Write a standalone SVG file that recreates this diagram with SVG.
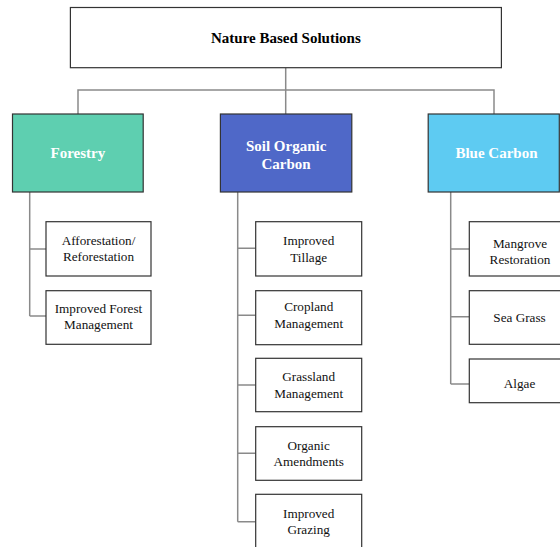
<svg xmlns="http://www.w3.org/2000/svg" width="560" height="547" viewBox="0 0 560 547">
  <style>
    .box { fill: #ffffff; stroke: #333333; stroke-width: 1.2; }
    .cat { stroke: #333333; stroke-width: 1.2; }
    .title { font-family: "Liberation Serif", "Times New Roman", serif; font-weight: bold; font-size: 15px; text-anchor: middle; fill: #000000; }
    .catlabel { font-family: "Liberation Serif", "Times New Roman", serif; font-weight: bold; font-size: 15px; text-anchor: middle; fill: #ffffff; }
    .item { font-family: "Liberation Serif", "Times New Roman", serif; font-size: 13.2px; text-anchor: middle; fill: #111111; }
    .conn { fill: none; stroke: #8a8a8a; stroke-width: 1.5; }
  </style>
  <rect width="560" height="547" fill="#ffffff"/>

  <g id="connectors">
    <!-- root to categories -->
    <path class="conn" d="M285.7 67.7 V114 M78 114 V90 H494 V114"/>
    <!-- Forestry branches -->
    <path class="conn" d="M29.7 192 V316 M29.7 249 H46 M29.7 316 H46"/>
    <!-- Soil Organic Carbon branches -->
    <path class="conn" d="M237.7 192 V521.7 M237.7 248.3 H255.7 M237.7 315.3 H255.7 M237.7 385 H255.7 M237.7 453.3 H255.7 M237.7 521.7 H255.7"/>
    <!-- Blue Carbon branches -->
    <path class="conn" d="M450.7 192 V384 M450.7 249 H469.3 M450.7 316.7 H469.3 M450.7 384 H469.3"/>
  </g>

  <g id="nature-based-solutions">
    <rect class="box" x="70.4" y="7.5" width="431" height="60.2"/>
    <text class="title" x="285.9" y="43">Nature Based Solutions</text>
  </g>

  <g id="forestry">
    <rect class="cat" x="12.5" y="114" width="130.7" height="78" fill="#5ecfb0"/>
    <text class="catlabel" x="77.9" y="158">Forestry</text>
  </g>
  <g id="soil-organic-carbon">
    <rect class="cat" x="220.4" y="114" width="131.4" height="78" fill="#4f68c8"/>
    <text class="catlabel" x="286.1" y="151">Soil Organic</text>
    <text class="catlabel" x="286.1" y="169">Carbon</text>
  </g>
  <g id="blue-carbon">
    <rect class="cat" x="428.2" y="114" width="131.1" height="78" fill="#5ecbf2"/>
    <text class="catlabel" x="496.5" y="158">Blue Carbon</text>
  </g>

  <!-- Forestry items -->
  <g id="afforestation">
    <rect class="box" x="46" y="221.7" width="105" height="54.3"/>
    <text class="item" x="98.5" y="245">Afforestation/</text>
    <text class="item" x="98.5" y="261">Reforestation</text>
  </g>
  <g id="improved-forest-management">
    <rect class="box" x="46" y="290.7" width="105" height="53.6"/>
    <text class="item" x="98.5" y="312.5">Improved Forest</text>
    <text class="item" x="98.5" y="328.5">Management</text>
  </g>

  <!-- Soil Organic Carbon items -->
  <g id="improved-tillage">
    <rect class="box" x="255.7" y="221.7" width="106" height="54.3"/>
    <text class="item" x="308.7" y="245">Improved</text>
    <text class="item" x="308.7" y="262">Tillage</text>
  </g>
  <g id="cropland-management">
    <rect class="box" x="255.7" y="290.7" width="106" height="54"/>
    <text class="item" x="308.7" y="311">Cropland</text>
    <text class="item" x="308.7" y="327.5">Management</text>
  </g>
  <g id="grassland-management">
    <rect class="box" x="255.7" y="358.3" width="106" height="53.4"/>
    <text class="item" x="308.7" y="381">Grassland</text>
    <text class="item" x="308.7" y="397.5">Management</text>
  </g>
  <g id="organic-amendments">
    <rect class="box" x="255.7" y="426.7" width="106" height="53.6"/>
    <text class="item" x="308.7" y="450">Organic</text>
    <text class="item" x="308.7" y="466">Amendments</text>
  </g>
  <g id="improved-grazing">
    <rect class="box" x="255.7" y="494.3" width="106" height="60"/>
    <text class="item" x="308.7" y="517.5">Improved</text>
    <text class="item" x="308.7" y="534">Grazing</text>
  </g>

  <!-- Blue Carbon items -->
  <g id="mangrove-restoration">
    <rect class="box" x="469.3" y="221.7" width="102" height="54.3"/>
    <text class="item" x="520" y="247.5">Mangrove</text>
    <text class="item" x="520" y="264">Restoration</text>
  </g>
  <g id="sea-grass">
    <rect class="box" x="469.3" y="290.7" width="102" height="53.6"/>
    <text class="item" x="519.5" y="321.5">Sea Grass</text>
  </g>
  <g id="algae">
    <rect class="box" x="469.3" y="359" width="102" height="43.7"/>
    <text class="item" x="519.5" y="388">Algae</text>
  </g>
</svg>
